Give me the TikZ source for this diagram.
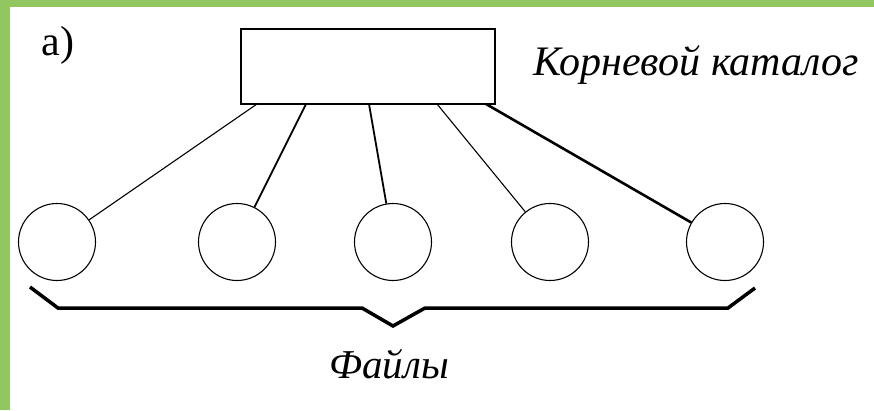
\documentclass[tikz,border=0pt]{standalone}
\usepackage{fontspec}
\setmainfont{Liberation Serif}
\begin{document}
\begin{tikzpicture}[x=1pt,y=-1pt,
  filebox/.style={draw,line width=1.1pt,minimum width=77pt,minimum height=77pt,circle,inner sep=0pt},
  rootbox/.style={draw,line width=1.6pt,minimum width=254pt,minimum height=75pt,inner sep=0pt},
  link/.style={line width=#1},
  lbl/.style={font=\fontsize{42}{46}\selectfont\itshape,inner sep=0pt}]
\definecolor{bggreen}{RGB}{146,198,96}
\useasboundingbox (0,0) rectangle (874,410);
\fill[white] (0,0) rectangle (874,410);
\fill[bggreen] (0,0) rectangle (874,7);
\fill[bggreen] (0,0) rectangle (10,410);
\node[inner sep=0pt,font=\fontsize{42}{46}\selectfont] (lab) at (58,45) {а)};
\node[rootbox] (root) at (368,66.5) {};
\node[lbl,anchor=base west] (rtext) at (533,75) {Корневой каталог};
\node[filebox] (f1) at (57,242) {};
\node[filebox] (f2) at (237,242) {};
\node[filebox] (f3) at (393,242) {};
\node[filebox] (f4) at (550,242) {};
\node[filebox] (f5) at (725,242) {};
\coordinate (r1) at (257,104);
\coordinate (r2) at (306,104);
\coordinate (r3) at (369,104);
\coordinate (r4) at (437,104);
\coordinate (r5) at (486,104);
\draw[link=1.1pt] (r1) -- (f1);
\draw[link=1.8pt] (r2) -- (f2);
\draw[link=1.8pt] (r3) -- (f3);
\draw[link=1.1pt] (r4) -- (f4);
\draw[link=2.6pt] (r5) -- (f5);
\coordinate (b0) at (30,287);
\coordinate (b1) at (58,308);
\coordinate (b2) at (362,308);
\coordinate (tip) at (393,326);
\coordinate (b3) at (425,308);
\coordinate (b4) at (728,308);
\coordinate (b5) at (755,288);
\draw[line width=3.5pt,line join=miter] (b0) -- (b1) -- (b2) -- (tip) -- (b3) -- (b4) -- (b5);
\node[lbl,font=\fontsize{41}{45}\selectfont\itshape] (files) at (389,364) {Файлы};
\end{tikzpicture}
\end{document}
